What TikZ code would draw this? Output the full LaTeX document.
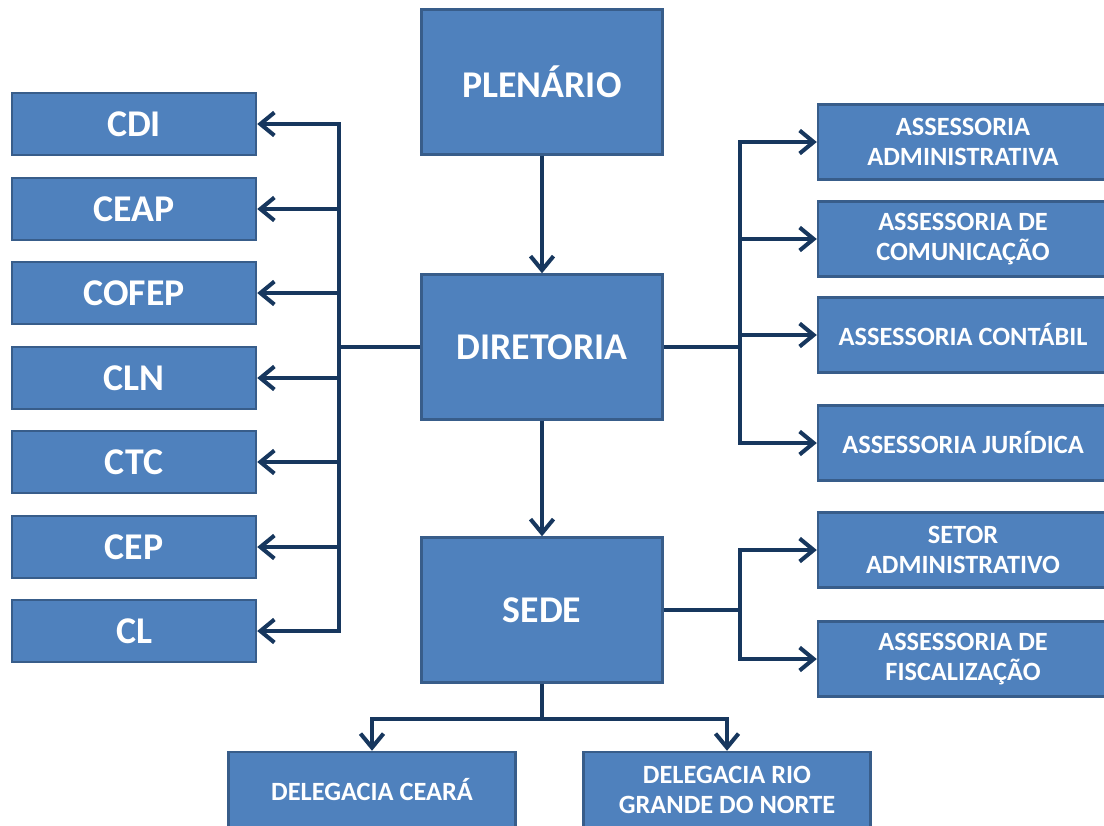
\documentclass[tikz,border=0pt]{standalone}
\usepackage{fontspec}
\setmainfont{Carlito}
\usetikzlibrary{arrows.meta}

\definecolor{boxblue}{HTML}{4F81BD}
\definecolor{boxedge}{HTML}{385D8A}
\definecolor{linknavy}{HTML}{17375E}

\begin{document}
\begin{tikzpicture}[x=0.02cm,y=-0.02cm,
    >={Straight Barb[length=2.8mm,width=4.6mm]},
    link/.style={draw=linknavy,line width=2.3pt},
    unit/.style={draw=boxedge,line width=1.4pt,fill=boxblue,text=white,
        font=\bfseries\fontsize{21.5}{25}\selectfont,inner sep=0pt,align=center},
    bigbox/.style={unit,minimum width=4.82cm,minimum height=2.9cm},
    combox/.style={unit,minimum width=4.88cm,minimum height=1.24cm},
    smallbox/.style={unit,minimum width=5.8cm,minimum height=1.5cm,
        font=\bfseries\fontsize{15}{17.5}\selectfont},
    delbox/.style={smallbox,minimum width=5.74cm,minimum height=1.52cm}]
    % page frame
    \useasboundingbox (0,0) rectangle (1104,825);

    % central column
    \node[bigbox] (plen) at (542,82) {PLENÁRIO};
    \node[bigbox] (dir) at (542,347) {DIRETORIA};
    \node[bigbox] (sede) at (542,610) {SEDE};
    \draw[link,->] (plen) -- (dir);
    \draw[link,->] (dir) -- (sede);

    % commissions on the left
    \coordinate (lt) at (339,347);
    \draw[link] (dir) -- (lt);
    \foreach \y/\n [count=\i] in {124/CDI,209/CEAP,293/COFEP,378/CLN,462/CTC,547/CEP,631/CL}
    {
        \node[combox] (c\i) at (134,\y) {\n};
        \draw[link,->] (lt) |- (c\i.east);
    };

    % advisory units on the right
    \coordinate (rt) at (740,347);
    \draw[link] (dir) -- (rt);
    \foreach \y/\n [count=\i] in {142/ASSESSORIA\\ADMINISTRATIVA,239/ASSESSORIA DE\\COMUNICAÇÃO,335/ASSESSORIA CONTÁBIL,443/ASSESSORIA JURÍDICA}
    {
        \node[smallbox] (a\i) at (963,\y) {\n};
        \draw[link,->] (rt) |- (a\i.west);
    };

    % units under the head office
    \coordinate (st) at (740,610);
    \draw[link] (sede) -- (st);
    \foreach \y/\n [count=\i] in {550/SETOR\\ADMINISTRATIVO,659/ASSESSORIA DE\\FISCALIZAÇÃO}
    {
        \node[smallbox] (s\i) at (963,\y) {\n};
        \draw[link,->] (st) |- (s\i.west);
    };

    % regional offices
    \coordinate (bt) at (542,719);
    \draw[link] (sede) -- (bt);
    \node[delbox] (d1) at (372,790) {DELEGACIA CEARÁ};
    \node[delbox] (d2) at (727,790) {DELEGACIA RIO\\GRANDE DO NORTE};
    \draw[link,->] (bt) -| (d1.north);
    \draw[link,->] (bt) -| (d2.north);
\end{tikzpicture}
\end{document}
